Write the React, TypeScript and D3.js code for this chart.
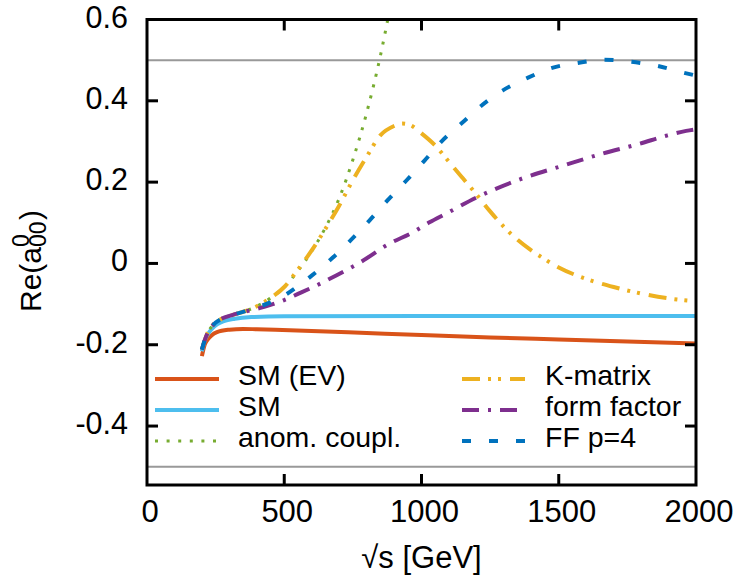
import React from "react";
import * as d3 from "d3";

// Partial-wave amplitude Re(a^0_00) versus sqrt(s) for several unitarisation schemes

const smEvSqrtS = [200, 210, 220, 235, 255, 300, 350, 400, 600, 800, 1000, 1250, 1500, 1750, 2000];
const smEvValues = [-0.228, -0.2, -0.188, -0.177, -0.169, -0.163, -0.161, -0.162, -0.166, -0.171, -0.176, -0.182, -0.187, -0.192, -0.197];

const smSqrtS = [200, 210, 220, 235, 255, 280, 320, 380, 500, 1000, 2000];
const smValues = [-0.216, -0.19, -0.176, -0.162, -0.15, -0.142, -0.136, -0.132, -0.13, -0.129, -0.129];

const anomSqrtS = [200, 210, 220, 240, 275, 310, 360, 410, 450, 500, 550, 600, 650, 700, 750, 800, 850, 880];
const anomValues = [-0.212, -0.19, -0.172, -0.152, -0.135, -0.127, -0.117, -0.102, -0.085, -0.058, -0.018, 0.03, 0.088, 0.16, 0.255, 0.37, 0.51, 0.61];

const kMatrixSqrtS = [200, 210, 220, 240, 275, 310, 360, 410, 450, 500, 550, 600, 650, 700, 750, 800, 850, 900, 930, 960, 1000, 1050, 1100, 1150, 1200, 1250, 1300, 1350, 1400, 1450, 1500, 1600, 1700, 1800, 1900, 2000];
const kMatrixValues = [-0.212, -0.19, -0.172, -0.152, -0.135, -0.127, -0.117, -0.102, -0.085, -0.058, -0.015, 0.032, 0.085, 0.142, 0.205, 0.262, 0.315, 0.338, 0.344, 0.34, 0.32, 0.29, 0.25, 0.21, 0.17, 0.128, 0.09, 0.058, 0.032, 0.01, -0.01, -0.038, -0.058, -0.074, -0.086, -0.093];

const formFactorSqrtS = [200, 210, 220, 240, 275, 310, 360, 410, 450, 500, 550, 618, 691, 775, 884, 967, 1029, 1091, 1200, 1367, 1513, 1658, 1793, 1891, 1964, 2000];
const formFactorValues = [-0.212, -0.19, -0.172, -0.152, -0.135, -0.127, -0.118, -0.11, -0.102, -0.09, -0.075, -0.054, -0.029, 0.002, 0.049, 0.076, 0.101, 0.123, 0.162, 0.209, 0.24, 0.27, 0.294, 0.314, 0.326, 0.33];

const ffP4SqrtS = [200, 210, 220, 240, 275, 310, 360, 410, 450, 500, 550, 600, 673, 745, 811, 876, 945, 1011, 1076, 1145, 1218, 1295, 1385, 1476, 1567, 1665, 1764, 1858, 1956, 2000];
const ffP4Values = [-0.212, -0.19, -0.172, -0.152, -0.135, -0.127, -0.117, -0.106, -0.096, -0.079, -0.056, -0.03, 0.012, 0.059, 0.106, 0.155, 0.204, 0.253, 0.302, 0.344, 0.388, 0.425, 0.456, 0.481, 0.493, 0.501, 0.496, 0.486, 0.469, 0.462];

const xTicks = [0, 500, 1000, 1500, 2000];
const yTicks = [0.6, 0.4, 0.2, 0, -0.2, -0.4];
const yTickLabels = ["0.6", "0.4", "0.2", "0", "-0.2", "-0.4"];
const unitarityBounds = [0.5, -0.5];

type Series = {
  name: string;
  xs: number[];
  ys: number[];
  color: string;
  width: number;
  dash?: string;
  legendDash?: string;
};

const series: Series[] = [
  { name: "SM (EV)", xs: smEvSqrtS, ys: smEvValues, color: "#D95319", width: 4 },
  { name: "SM", xs: smSqrtS, ys: smValues, color: "#4DBEEE", width: 4 },
  { name: "anom. coupl.", xs: anomSqrtS, ys: anomValues, color: "#77AC30", width: 3, dash: "3,8", legendDash: "3,8.6" },
  { name: "K-matrix", xs: kMatrixSqrtS, ys: kMatrixValues, color: "#EDB120", width: 4, dash: "18,8,3,7,3,9" },
  { name: "form factor", xs: formFactorSqrtS, ys: formFactorValues, color: "#7E2F8E", width: 4, dash: "17,9,3,9" },
  { name: "FF p=4", xs: ffP4SqrtS, ys: ffP4Values, color: "#0072BD", width: 4, dash: "9,18" },
];

const W = 738;
const H = 579;
const left = 147;
const right = 696;
const top = 19.5;
const bottom = 485;
const font = "'Liberation Sans', Arial, Helvetica, sans-serif";

export default function App() {
  const x = d3.scaleLinear().domain([0, 2000]).range([left, right]);
  const y = d3.scaleLinear().domain([-0.545, 0.6]).range([bottom, top]);

  const line = d3
    .line<[number, number]>()
    .x((d) => x(d[0]))
    .y((d) => y(d[1]))
    .curve(d3.curveMonotoneX);

  const legendRowsY = [379, 410, 441];
  const legendCols = [
    { x1: 155, x2: 219, tx: 238 },
    { x1: 462, x2: 525, tx: 545 },
  ];

  return (
    <svg
      width={W}
      height={H}
      viewBox={`0 0 ${W} ${H}`}
      style={{ position: "absolute", left: 0, top: 0, background: "#fff" }}
      fontFamily={font}
    >
      <defs>
        <clipPath id="plotArea">
          <rect x={left} y={top} width={right - left} height={bottom - top} />
        </clipPath>
      </defs>

      {/* unitarity bounds */}
      {unitarityBounds.map((b) => (
        <line key={b} x1={left} x2={right} y1={y(b)} y2={y(b)} stroke="#999" strokeWidth={2} />
      ))}

      {/* curves */}
      <g clipPath="url(#plotArea)">
        {series.map((s) => (
          <path
            key={s.name}
            d={line(s.xs.map((v, i) => [v, s.ys[i]] as [number, number])) || ""}
            fill="none"
            stroke={s.color}
            strokeWidth={s.width}
            strokeDasharray={s.dash}
            strokeLinecap="butt"
            strokeLinejoin="round"
          />
        ))}
      </g>

      {/* legend */}
      {series.map((s, i) => {
        const col = legendCols[Math.floor(i / 3)];
        const ly = legendRowsY[i % 3];
        return (
          <g key={s.name}>
            <line
              x1={col.x1}
              x2={col.x2}
              y1={ly}
              y2={ly}
              stroke={s.color}
              strokeWidth={s.width}
              strokeDasharray={s.legendDash ?? s.dash}
            />
            <text x={col.tx} y={ly + 5.5} fontSize={28.5} textLength={undefined} fill="#000">
              {s.name}
            </text>
          </g>
        );
      })}

      {/* ticks, mirrored on all four sides */}
      {yTicks
        .filter((t) => t < 0.59)
        .map((t) => (
          <g key={`yt${t}`}>
            <line x1={left} x2={left + 11} y1={y(t)} y2={y(t)} stroke="#000" strokeWidth={3} />
            <line x1={right} x2={right - 11} y1={y(t)} y2={y(t)} stroke="#000" strokeWidth={3} />
          </g>
        ))}
      {xTicks
        .filter((t) => t > 0 && t < 2000)
        .map((t) => (
          <g key={`xt${t}`}>
            <line x1={x(t)} x2={x(t)} y1={bottom} y2={bottom - 11} stroke="#000" strokeWidth={3} />
            <line x1={x(t)} x2={x(t)} y1={top} y2={top + 11} stroke="#000" strokeWidth={3} />
          </g>
        ))}

      {/* frame */}
      <rect x={left} y={top} width={right - left} height={bottom - top} fill="none" stroke="#000" strokeWidth={3} />

      {/* tick labels */}
      {yTicks.map((t, i) => (
        <text key={`yl${t}`} x={128} y={y(t) + 8} fontSize={30.5} textAnchor="end" fill="#000">
          {yTickLabels[i]}
        </text>
      ))}
      {xTicks.map((t) => (
        <text key={`xl${t}`} x={x(t) + 3} y={522} fontSize={31} textAnchor="middle" fill="#000">
          {t}
        </text>
      ))}

      {/* axis titles */}
      <text x={(left + right) / 2} y={568} fontSize={31} textAnchor="middle" fill="#000">
        √s [GeV]
      </text>
      <g transform="translate(41,312) rotate(-90)" fill="#000">
        <text x={0} y={0} fontSize={30}>Re(a</text>
        <text x={65} y={-12} fontSize={23}>0</text>
        <text x={65} y={5} fontSize={23}>00</text>
        <text x={92} y={0} fontSize={30}>)</text>
      </g>
    </svg>
  );
}
